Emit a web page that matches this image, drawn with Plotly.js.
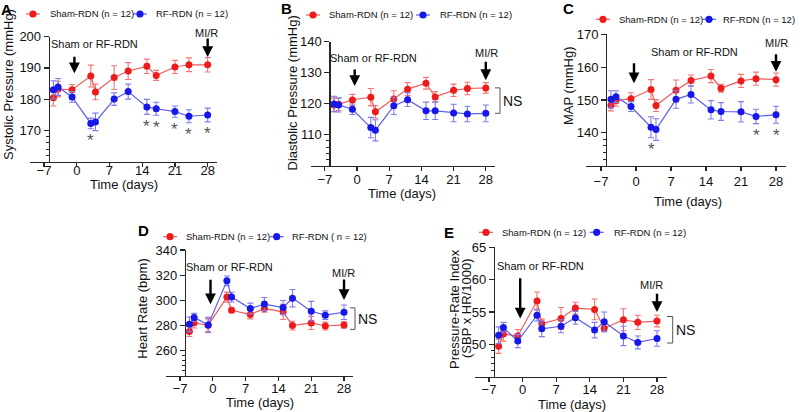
<!DOCTYPE html>
<html>
<head>
<meta charset="utf-8">
<script src="https://cdn.plot.ly/plotly-3.0.1.min.js"></script>
<style>
  html, body { margin: 0; padding: 0; background: #fff; overflow: hidden; }
  #chart { width: 800px; height: 412px; }
</style>
</head>
<body>
<div id="chart"></div>
<script>
// ---- data (mean +/- SEM) ----
const days = [-5, -4, -1, 3, 4, 8, 11, 15, 17, 21, 24, 28];
const xTicks = [-7, 0, 7, 14, 21, 28];

const sbpSham    = [180.4, 183.2, 183.0, 187.4, 182.3, 186.9, 189.0, 190.5, 187.6, 190.3, 191.0, 191.0];
const sbpShamErr = [2.6, 2.5, 1.7, 3.5, 2.5, 3.8, 2.7, 2.3, 1.6, 2.1, 2.2, 2.3];
const sbpRf      = [183.0, 183.9, 180.7, 172.2, 172.7, 180.0, 182.4, 177.5, 176.9, 176.0, 174.5, 174.9];
const sbpRfErr   = [2.9, 2.7, 1.7, 1.7, 2.8, 2.0, 2.4, 2.4, 2.1, 1.8, 2.1, 2.2];

const dbpSham    = [119.6, 119.8, 121.2, 122.1, 117.4, 121.5, 124.7, 126.6, 122.2, 124.3, 124.9, 125.1];
const dbpShamErr = [2.2, 2.0, 1.8, 2.8, 2.0, 2.7, 2.1, 1.9, 1.7, 2.0, 2.0, 1.7];
const dbpRf      = [119.9, 119.6, 118.2, 112.3, 111.4, 119.3, 121.3, 117.7, 117.7, 117.0, 116.7, 116.9];
const dbpRfErr   = [2.5, 2.3, 1.7, 3.3, 3.4, 2.8, 2.2, 2.8, 2.8, 2.8, 2.5, 2.7];

const mapSham    = [148.4, 149.8, 150.4, 153.2, 148.3, 153.0, 155.9, 157.3, 153.6, 155.8, 156.5, 156.2];
const mapShamErr = [1.7, 1.7, 1.8, 3.0, 1.8, 3.1, 1.7, 2.0, 1.2, 2.0, 2.0, 2.0];
const mapRf      = [150.2, 151.0, 148.0, 141.7, 141.0, 150.2, 151.7, 147.0, 146.5, 146.4, 145.0, 145.5];
const mapRfErr   = [2.6, 1.8, 1.5, 3.2, 3.3, 2.7, 2.6, 2.8, 2.7, 3.1, 2.2, 2.6];

const hrSham     = [275.3, 282.3, 280.3, 302.6, 292.2, 288.8, 293.5, 290.9, 280.0, 282.1, 279.7, 280.5];
const hrShamErr  = [4.0, 4.2, 5.0, 4.0, 2.0, 3.5, 2.9, 6.0, 3.5, 5.2, 3.2, 2.6];
const hrRf       = [281.0, 286.5, 280.5, 315.5, 302.6, 293.5, 297.1, 294.3, 301.8, 291.4, 288.3, 290.6];
const hrRfErr    = [5.8, 3.2, 6.0, 3.9, 3.9, 4.3, 5.2, 5.6, 6.9, 7.8, 3.4, 5.8];

const priSham    = [49.7, 51.6, 51.3, 56.7, 53.2, 54.0, 55.6, 55.4, 52.5, 53.8, 53.4, 53.6];
const priShamErr = [1.1, 1.1, 1.0, 1.4, 0.7, 1.7, 0.9, 1.6, 0.6, 1.7, 1.1, 0.9];
const priRf      = [51.4, 52.6, 50.5, 54.5, 52.4, 52.8, 54.1, 52.2, 53.5, 51.3, 50.3, 50.9];
const priRfErr   = [1.3, 0.8, 1.0, 0.9, 1.2, 1.0, 1.0, 1.2, 1.5, 1.5, 1.0, 1.2];

// days with p < 0.05 (asterisks)
const sbpSigDays = [3, 15, 17, 21, 24, 28];
const mapSigDays = [3, 24, 28];

// ---- styling ----
const W = 800, H = 412;
const FONT = 'Arial, "Liberation Sans", sans-serif';
const RED = '#ee1b1b', RED_LINE = '#f25a5a', RED_ERR = '#f37575';
const BLUE = '#1717ea', BLUE_LINE = '#5b5bee', BLUE_ERR = '#7d7df0';
const AXIS = '#262626';

const px = v => v / W;
const py = v => 1 - v / H;

// panel geometry in page pixels
const panels = [
  { letter: 'A', sham: sbpSham, shamErr: sbpShamErr, rf: sbpRf, rfErr: sbpRfErr,
    yRange: [160, 200], yTicks: [170, 180, 190, 200], minor: [162, 164, 166, 168],
    left: 30, right: 217, top: 36.7, bottom: 161.5, tso: -7,
    ytitle: ['Systolic Pressure (mmHg)'], ytx: [8], yty: 85, xtx: 124, xty: 184.5, lab: [6, 9.5],
    leg: { y: 14, red: [33, 48], blue: [140, 154] }, rfName: 'RF-RDN (n = 12)',
    sText: [94, 44], a1: [-0.5, 188.3, -18], mText: [207, 33], a2: [28, 193.5, -20],
    sig: sbpSigDays },
  { letter: 'B', sham: dbpSham, shamErr: dbpShamErr, rf: dbpRf, rfErr: dbpRfErr,
    yRange: [100, 140], yTicks: [110, 120, 130, 140], minor: [102, 104, 106, 108],
    left: 311, right: 495, top: 41.7, bottom: 165.7, tso: -3,
    ytitle: ['Diastolic Pressure (mmHg)'], ytx: [291.5], yty: 93, xtx: 402, xty: 193, lab: [286, 8.5],
    leg: { y: 15, red: [313, 327], blue: [423, 438] }, rfName: 'RF-RDN (n = 12)',
    sText: [373, 58], a1: [-0.5, 125.7, -18], mText: [486.7, 53.3], a2: [28, 127.6, -20],
    ns: { x0: 495, x1: 500, pad: 0, tx: 512 } },
  { letter: 'C', sham: mapSham, shamErr: mapShamErr, rf: mapRf, rfErr: mapRfErr,
    yRange: [130, 170], yTicks: [140, 150, 160, 170], minor: [132, 134, 136, 138],
    left: 586, right: 786, top: 34.3, bottom: 165.7, tso: -1,
    ytitle: ['MAP (mmHg)'], ytx: [568], yty: 86, xtx: 687.5, xty: 201, lab: [568, 8.5],
    leg: { y: 19.3, red: [603, 617], blue: [709, 721] }, rfName: 'RF-RDN (n = 12)',
    sText: [694.5, 52], a1: [-0.4, 155.1, -21.6], mText: [776.7, 43.3], a2: [28, 158.6, -19],
    sig: mapSigDays },
  { letter: 'D', sham: hrSham, shamErr: hrShamErr, rf: hrRf, rfErr: hrRfErr,
    yRange: [240, 340], yTicks: [260, 280, 300, 320, 340], minor: [244, 248, 252, 256],
    left: 166, right: 353.4, top: 250, bottom: 376, tso: -4,
    ytitle: ['Heart Rate (bpm)'], ytx: [141.7], yty: 309, xtx: 259.7, xty: 402, lab: [143, 230.5],
    leg: { y: 236.7, red: [170, 184], blue: [276.7, 290] }, rfName: 'RF-RDN ( n = 12)',
    sText: [229, 266.7], a1: [-0.5, 296.9, -26], mText: [343, 273], a2: [28, 300.3, -22],
    ns: { x0: 350, x1: 355, pad: 3.5, tx: 367 } },
  { letter: 'E', sham: priSham, shamErr: priShamErr, rf: priRf, rfErr: priRfErr,
    yRange: [45, 65], yTicks: [50, 55, 60, 65], minor: [46, 47, 48, 49],
    left: 474.6, right: 666.6, top: 247.3, bottom: 376.7, tso: -4,
    ytitle: ['Pressure-Rate Index', '(SBP x HR/1000)'], ytx: [454, 466], yty: 309, xtx: 571.7, xty: 404.5, lab: [449, 232.5],
    leg: { y: 232.3, red: [486, 500], blue: [596.7, 612] }, rfName: 'RF-RDN (n = 12)',
    sText: [540.5, 266], a1: [-0.5, 54.0, -41.6], mText: [651.7, 285], a2: [28, 55.0, -19.7],
    ns: { x0: 667, x1: 672.7, pad: 0.7, tx: 685 } }
];

const X_RANGE = [-10, 30];
const Y_AXIS_DAY = -6;

const traces = [];
const layout = {
  width: W, height: H,
  margin: { l: 0, r: 0, t: 0, b: 0, autoexpand: false },
  paper_bgcolor: '#fff', plot_bgcolor: 'rgba(0,0,0,0)',
  font: { family: FONT, color: '#111', size: 13 },
  showlegend: false,
  annotations: [], shapes: []
};

function paperText(x, y, text, size, extra) {
  return Object.assign({ xref: 'paper', yref: 'paper', x: px(x), y: py(y), xanchor: 'center', yanchor: 'middle',
    text: text, showarrow: false, font: { size: size, family: FONT, color: '#111' } }, extra || {});
}

// small legend key: short line, dot, label
function legendKey(pos, y, label, dot, line) {
  const [mx, tx] = pos;
  layout.shapes.push({ type: 'line', xref: 'paper', yref: 'paper', x0: px(mx - 7), x1: px(mx + 7), y0: py(y), y1: py(y),
    line: { color: line, width: 1.2 } });
  layout.shapes.push({ type: 'circle', xref: 'paper', yref: 'paper', x0: px(mx - 3.6), x1: px(mx + 3.6),
    y0: py(y + 3.6), y1: py(y - 3.6), fillcolor: dot, line: { width: 0 } });
  layout.annotations.push(paperText(tx, y, label, 9.5, { xanchor: 'left' }));
}

panels.forEach((p, i) => {
  const n = i + 1;
  const sfx = n > 1 ? String(n) : '';
  const xa = 'x' + sfx, ya = 'y' + sfx;
  const xPerDay = (p.right - p.left) / (X_RANGE[1] - X_RANGE[0]);
  const yAxisPx = p.left + (Y_AXIS_DAY - X_RANGE[0]) * xPerDay;
  // page y of a value on this panel's linear y axis (for the NS bracket outside the plot area)
  const yPage = v => p.top + (p.yRange[1] - v) / (p.yRange[1] - p.yRange[0]) * (p.bottom - p.top);

  traces.push({
    x: days, y: p.sham, name: 'Sham-RDN (n = 12)', type: 'scatter', mode: 'lines+markers',
    xaxis: xa, yaxis: ya, cliponaxis: false,
    line: { color: RED_LINE, width: 1.2 },
    marker: { color: RED, size: 7 },
    error_y: { type: 'data', array: p.shamErr, color: RED_ERR, thickness: 1.1, width: 3 }
  });
  traces.push({
    x: days, y: p.rf, name: p.rfName, type: 'scatter', mode: 'lines+markers',
    xaxis: xa, yaxis: ya, cliponaxis: false,
    line: { color: BLUE_LINE, width: 1.2 },
    marker: { color: BLUE, size: 7 },
    error_y: { type: 'data', array: p.rfErr, color: BLUE_ERR, thickness: 1.1, width: 3 }
  });

  layout['xaxis' + sfx] = {
    domain: [px(p.left), px(p.right)], anchor: ya, range: X_RANGE,
    tickvals: xTicks, ticks: 'outside', ticklen: 4, tickwidth: 1.2, tickcolor: AXIS, ticklabelstandoff: p.tso,
    showline: true, linecolor: AXIS, linewidth: 1.2, showgrid: false, zeroline: false,
    tickfont: { size: 13, family: FONT, color: '#111' }, fixedrange: true, automargin: false
  };
  layout['yaxis' + sfx] = {
    domain: [py(p.bottom), py(p.top)], anchor: 'free', position: px(yAxisPx), range: p.yRange,
    tickvals: p.yTicks, ticks: 'outside', ticklen: 5, tickwidth: 1.2, tickcolor: AXIS,
    minor: { tickvals: p.minor, ticks: 'outside', ticklen: 3, tickwidth: 1, tickcolor: AXIS },
    showline: true, linecolor: AXIS, linewidth: 1.2, showgrid: false, zeroline: false,
    tickfont: { size: 13, family: FONT, color: '#111' }, fixedrange: true, automargin: false
  };

  legendKey(p.leg.red, p.leg.y, 'Sham-RDN (n = 12)', RED, RED_LINE);
  legendKey(p.leg.blue, p.leg.y, p.rfName, BLUE, BLUE_LINE);

  const ann = layout.annotations;
  ann.push(paperText(p.lab[0], p.lab[1], '<b>' + p.letter + '</b>', 15, { font: { size: 15, family: FONT, color: '#000' } }));
  p.ytitle.forEach((t, k) => ann.push(paperText(p.ytx[k], p.yty, t, 13, { textangle: -90 })));
  ann.push(paperText(p.xtx, p.xty, 'Time (days)', 13));
  ann.push(paperText(p.sText[0], p.sText[1], 'Sham or RF-RDN', 11));
  ann.push(paperText(p.mText[0], p.mText[1], 'MI/R', 11));
  [p.a1, p.a2].forEach(a => ann.push({ xref: xa, yref: ya, x: a[0], y: a[1], ax: 0, ay: a[2], text: '',
    showarrow: true, arrowhead: 2, arrowsize: 0.9, arrowwidth: 2.4, arrowcolor: '#000' }));
  // asterisks under the RF-RDN error bars
  if (p.sig) {
    p.sig.forEach(d => {
      const k = days.indexOf(d);
      ann.push({ xref: xa, yref: ya, x: d, y: p.rf[k] - p.rfErr[k], xanchor: 'center', yanchor: 'middle', yshift: -12,
        text: '*', showarrow: false, font: { size: 17, family: FONT, color: '#555' } });
    });
  }
  // NS bracket spanning the day-28 means
  if (p.ns) {
    const last = days.length - 1;
    const hi = yPage(Math.max(p.sham[last], p.rf[last]) + p.ns.pad);
    const lo = yPage(Math.min(p.sham[last], p.rf[last]) - p.ns.pad);
    layout.shapes.push({ type: 'path', xref: 'paper', yref: 'paper',
      path: `M ${px(p.ns.x0)},${py(hi)} L ${px(p.ns.x1)},${py(hi)} L ${px(p.ns.x1)},${py(lo)} L ${px(p.ns.x0)},${py(lo)}`,
      line: { color: '#555', width: 1 } });
    ann.push(paperText(p.ns.tx, (hi + lo) / 2, 'NS', 14));
  }
});

Plotly.newPlot('chart', traces, layout, { displayModeBar: false, staticPlot: true });
</script>
</body>
</html>
